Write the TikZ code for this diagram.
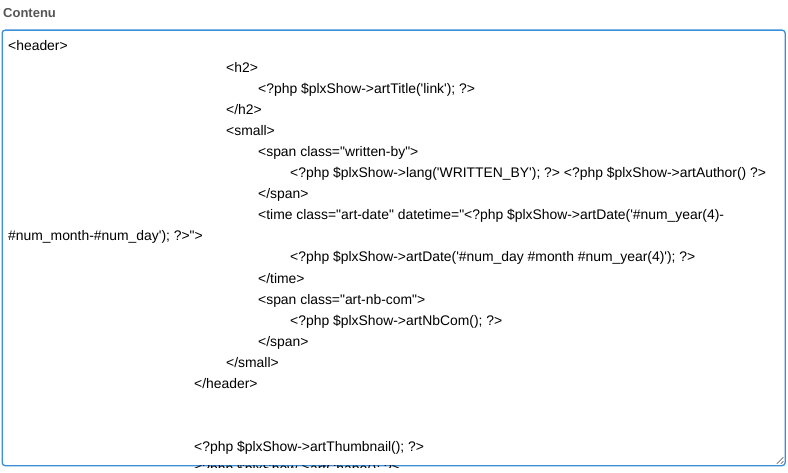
\documentclass[tikz,border=0pt]{standalone}
\usepackage{fontspec}
\usepackage{tikz}
\usetikzlibrary{positioning}
\usetikzlibrary{calc}
\newfontfamily\codefont{Liberation Sans}
\definecolor{areablue}{RGB}{59,143,217}
\definecolor{labelgray}{RGB}{85,85,85}
\definecolor{gripgray}{RGB}{110,110,110}
\tikzstyle{textarea} = [draw=areablue, line width=1.3pt, fill=white, rounded corners=3pt, rectangle, anchor=north west, inner sep=0pt]
\tikzstyle{fieldlabel} = [anchor=base west, inner sep=0pt, text=labelgray, font=\codefont\fontsize{13}{15}\selectfont\bfseries]
\tikzstyle{codeline} = [anchor=base west, inner sep=0pt, text=black, font=\codefont\fontsize{13.9}{17}\selectfont]
\tikzstyle{grip} = [draw=gripgray, line width=0.7pt]

\begin{document}
\begin{tikzpicture}[x=1pt,y=-1pt]
    \useasboundingbox (0,0) rectangle (788,473);
    \node [fieldlabel] (label) at (3,17.5) {Contenu};
    \node [textarea, minimum width=783pt, minimum height=435.5pt] (area) at (1.5,29.5) {};

    \node [codeline] (l1) at (8,51) {<header>};
    \node [codeline] (l2) at (226,72.1) {<h2>};
    \node [codeline] (l3) at (258,93.2) {<?php \$plxShow->artTitle('link'); ?>};
    \node [codeline] (l4) at (226,114.3) {</h2>};
    \node [codeline] (l5) at (226,135.4) {<small>};
    \node [codeline] (l6) at (258,156.5) {<span class="written-by">};
    \node [codeline] (l7) at (290,177.6) {<?php \$plxShow->lang('WRITTEN\_BY'); ?> <?php \$plxShow->artAuthor() ?>};
    \node [codeline] (l8) at (258,198.7) {</span>};
    \node [codeline] (l9) at (258,219.8) {<time class="art-date" datetime="<?php \$plxShow->artDate('\#num\_year(4)-};
    \node [codeline] (l10) at (8,240.9) {\#num\_month-\#num\_day'); ?>">};
    \node [codeline] (l11) at (290,262.0) {<?php \$plxShow->artDate('\#num\_day \#month \#num\_year(4)'); ?>};
    \node [codeline] (l12) at (258,283.1) {</time>};
    \node [codeline] (l13) at (258,304.2) {<span class="art-nb-com">};
    \node [codeline] (l14) at (290,325.3) {<?php \$plxShow->artNbCom(); ?>};
    \node [codeline] (l15) at (258,346.4) {</span>};
    \node [codeline] (l16) at (226,367.5) {</small>};
    \node [codeline] (l17) at (194,388.6) {</header>};
    \node [codeline] (l18) at (194,451.9) {<?php \$plxShow->artThumbnail(); ?>};
    % last line, cut by the bottom edge
    \begin{scope}
        \clip (0,465.8) rectangle (788,467.6);
        \node [codeline] (l19) at (194,473) {<?php \$plxShow->artChapo(); ?>};
    \end{scope}

    % resize grip
    \draw [grip] ($(area.south east)+(-2.5,-9)$) -- ($(area.south east)+(-9,-2.5)$);
    \draw [grip] ($(area.south east)+(-2.5,-5)$) -- ($(area.south east)+(-5,-2.5)$);
\end{tikzpicture}
\end{document}
